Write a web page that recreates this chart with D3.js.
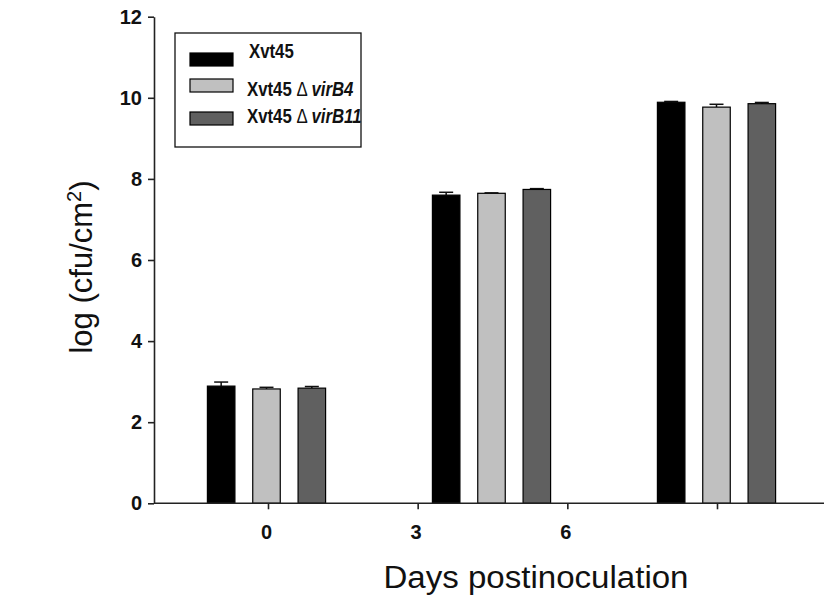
<!DOCTYPE html>
<html>
<head>
<meta charset="utf-8">
<script src="https://cdn.jsdelivr.net/npm/d3@7"></script>
<style>
body { margin: 0; background: #fff; }
text { font-family: "Liberation Sans", Arial, sans-serif; }
</style>
</head>
<body>
<div id="chart"></div>
<script>
const days = ["0", "3", "6"];
const strains = ["Xvt45", "Xvt45 virB4", "Xvt45 virB11"];
const mutants = ["", "virB4", "virB11"];
// log(cfu/cm2) per strain, one value per day
const means = [
    [2.89, 7.60, 9.89],
    [2.82, 7.645, 9.77],
    [2.84, 7.74, 9.855]
];
const errors = [
    [0.10, 0.07, 0.02],
    [0.04, 0.01, 0.07],
    [0.04, 0.02, 0.03]
];
const colors = ["#000000", "#c0c0c0", "#606060"];
const yTicks = [0, 2, 4, 6, 8, 10, 12];
const xTickLabels = ["0", "3", "6", ""];

const width = 824, height = 601;
const axisColor = "#222";

const svg = d3.select("#chart").append("svg")
    .attr("width", width)
    .attr("height", height);

const y = d3.scaleLinear().domain([0, 12]).range([503.3, 16.7]);
const x0 = d3.scaleBand().domain(days).range([154, 829]);
const x1 = d3.scaleBand().domain(strains).range([44.5, 180.5])
    .paddingInner(0.393).paddingOuter(0.1965);
// tick marks of the x axis do not line up with the groups
const xTick = d3.scalePoint().domain(d3.range(xTickLabels.length)).range([268, 717]);

// bars
strains.forEach((s, i) => {
    const g = svg.append("g");
    days.forEach((d, j) => {
        const bx = x0(d) + x1(s);
        const v = means[i][j];
        const e = errors[i][j];
        const cx = bx + x1.bandwidth() / 2;
        g.append("line")
            .attr("x1", cx).attr("x2", cx)
            .attr("y1", y(v)).attr("y2", y(v + e))
            .style("stroke", "#111").style("stroke-width", 1.5);
        g.append("line")
            .attr("x1", cx - 7).attr("x2", cx + 7)
            .attr("y1", y(v + e)).attr("y2", y(v + e))
            .style("stroke", "#111").style("stroke-width", 1.5);
        g.append("rect")
            .attr("x", bx)
            .attr("y", y(v))
            .attr("width", x1.bandwidth())
            .attr("height", y(0) - y(v))
            .style("fill", colors[i])
            .style("stroke", "#000")
            .style("stroke-width", 1.2);
    });
});

// y axis
const yAxis = svg.append("g")
    .attr("transform", "translate(154,0)")
    .call(d3.axisLeft(y).tickValues(yTicks).tickSize(6).tickSizeOuter(0).tickPadding(6));
yAxis.selectAll("text")
    .attr("font-size", 20).attr("font-weight", "bold")
    .attr("font-family", "Liberation Sans, Arial, sans-serif").attr("fill", "#111");

// x axis
const xAxis = svg.append("g")
    .attr("transform", `translate(0,${y(0)})`)
    .call(d3.axisBottom(xTick).tickSize(6).tickSizeOuter(0).tickPadding(16)
        .tickFormat(i => xTickLabels[i]));
xAxis.select(".domain").remove();
xAxis.append("line")
    .attr("x1", x0.range()[0]).attr("x2", x0.range()[1])
    .attr("y1", 0).attr("y2", 0)
    .style("stroke", axisColor).style("stroke-width", 1.6);
xAxis.selectAll("text")
    .attr("dx", -2)
    .attr("font-size", 20).attr("font-weight", "bold")
    .attr("font-family", "Liberation Sans, Arial, sans-serif").attr("fill", "#111");

svg.selectAll(".domain, .tick line")
    .style("stroke", axisColor).style("stroke-width", 1.6);

// axis titles
const yLabel = svg.append("text")
    .attr("transform", "translate(92,267) rotate(-90)")
    .attr("text-anchor", "middle")
    .attr("font-size", 31)
    .attr("fill", "#111");
yLabel.append("tspan").text("log (cfu/cm");
yLabel.append("tspan").attr("baseline-shift", "super").attr("font-size", 20).text("2");
yLabel.append("tspan").text(")");

svg.append("text")
    .attr("x", 536).attr("y", 588)
    .attr("text-anchor", "middle")
    .attr("font-size", 31)
    .attr("textLength", 305)
    .attr("lengthAdjust", "spacingAndGlyphs")
    .attr("fill", "#111")
    .text("Days postinoculation");

// legend
const legendRows = [
    { box: 53, text: 58 },
    { box: 79, text: 96 },
    { box: 112, text: 123 }
];
const legend = svg.append("g");
legend.append("rect")
    .attr("x", 175).attr("y", 33)
    .attr("width", 186).attr("height", 114)
    .style("fill", "#fff").style("stroke", "#111").style("stroke-width", 1.3);

strains.forEach((s, i) => {
    legend.append("rect")
        .attr("x", 190).attr("y", legendRows[i].box)
        .attr("width", 43).attr("height", 13)
        .style("fill", colors[i]).style("stroke", "#000").style("stroke-width", 1.2);
    const t = legend.append("text")
        .attr("transform", `translate(${i === 0 ? 249 : 247},${legendRows[i].text}) scale(0.8,1)`)
        .attr("font-size", 21).attr("font-weight", "bold").attr("fill", "#111");
    t.append("tspan").text("Xvt45");
    if (mutants[i]) {
        t.append("tspan").attr("font-weight", "normal").text(" \u0394 ");
        t.append("tspan").attr("font-style", "italic").text(mutants[i]);
    }
});
</script>
</body>
</html>
